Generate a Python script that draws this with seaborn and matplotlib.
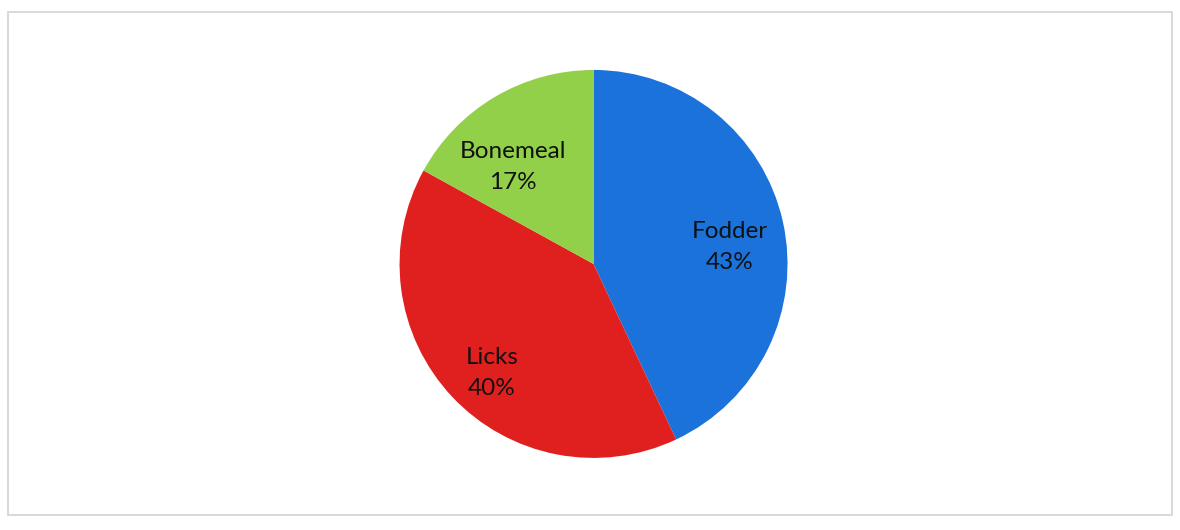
import matplotlib
matplotlib.use("Agg")
import matplotlib.pyplot as plt
from matplotlib.patches import Rectangle
import seaborn as sns

# feed use shares
categories = ["Fodder", "Licks", "Bonemeal"]
shares = [43, 40, 17]
colors = ["#1a72da", "#e01f1f", "#93d04a"]

sns.set_theme(style="white")
plt.rcParams["font.family"] = ["Lato", "DejaVu Sans"]

fig = plt.figure(figsize=(11.8, 5.3), dpi=100)
fig.patch.set_facecolor("white")

# light chart border like the scanned frame
fig.patches.append(Rectangle((8 / 1180, 15 / 530), 1164 / 1180, 503 / 530,
                             transform=fig.transFigure, fill=False,
                             edgecolor="#d2d2d2", linewidth=1.2))

ax = fig.add_axes([0.3385, 0.136, 0.329, 0.732])
labels = [f"{c}\n{s}%" for c, s in zip(categories, shares)]
wedges, texts = ax.pie(shares, labels=labels, colors=colors, startangle=90,
                       counterclock=False, labeldistance=0.72,
                       wedgeprops=dict(linewidth=0),
                       textprops=dict(fontsize=17.5, color="#111111",
                                      ha="center", va="center",
                                      linespacing=1.55))
for t in texts:
    t.set_horizontalalignment("center")
    x, y = t.get_position()
    dy = 0.07
    if t.get_text().startswith("Bonemeal"):
        x -= 0.05
        dy = 0.12
    t.set_position((x, y - dy))
ax.set_aspect("equal")
ax.set_xlim(-1, 1)
ax.set_ylim(-1, 1)
ax.axis("off")

fig.savefig("out.png", dpi=100, facecolor="white")
